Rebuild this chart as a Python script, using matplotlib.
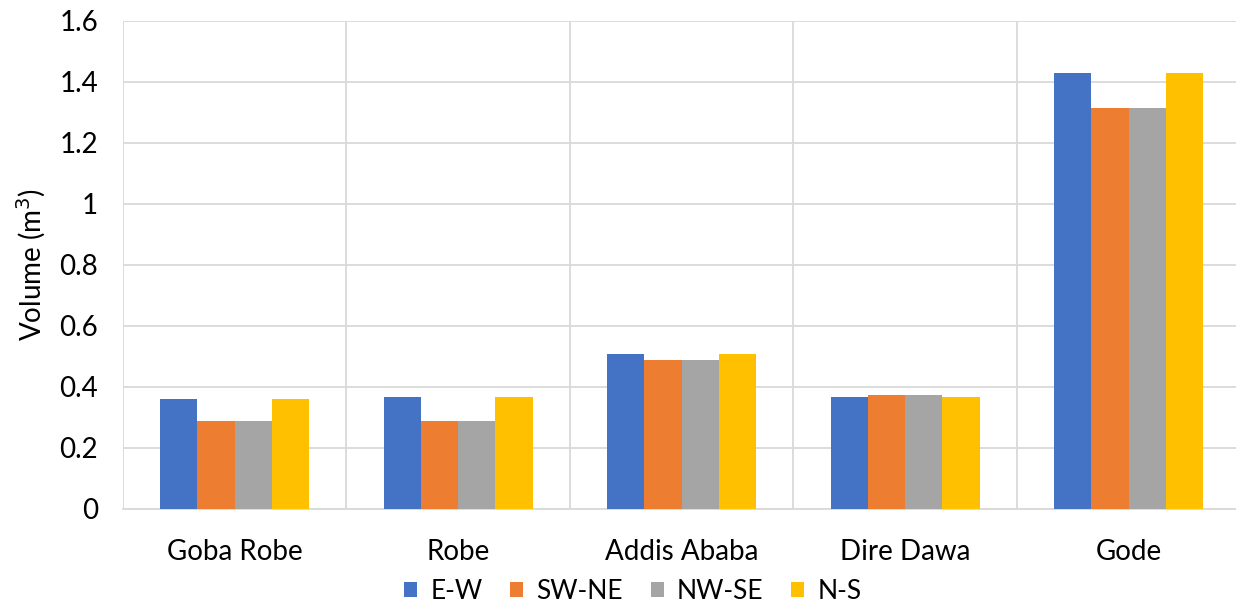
import matplotlib
matplotlib.use("Agg")
import matplotlib.pyplot as plt
from matplotlib.patches import Patch
import numpy as np

plt.rcParams['font.family'] = ['Lato', 'DejaVu Sans']

sites = ["Goba Robe", "Robe", "Addis Ababa", "Dire Dawa", "Gode"]
series_names = ["E-W", "SW-NE", "NW-SE", "N-S"]
colors = ["#4472C4", "#ED7D31", "#A5A5A5", "#FFC000"]

ew = [0.358, 0.367, 0.507, 0.367, 1.428]
sw_ne = [0.286, 0.288, 0.487, 0.374, 1.314]
nw_se = [0.286, 0.288, 0.487, 0.374, 1.314]
ns = [0.358, 0.365, 0.507, 0.367, 1.428]
values = [ew, sw_ne, nw_se, ns]

yticks = [0, 0.2, 0.4, 0.6, 0.8, 1, 1.2, 1.4, 1.6]
ytick_labels = ["0", "0.2", "0.4", "0.6", "0.8", "1", "1.2", "1.4", "1.6"]

FS = 20

fig = plt.figure(figsize=(12.36, 6.06), dpi=100)
ax = fig.add_axes([0.0995, 0.1606, 0.904, 0.8052])

x = np.arange(len(sites))
bar_w = 1 / 6
for i, (vals, col) in enumerate(zip(values, colors)):
    ax.bar(x + (i - 1.5) * bar_w, vals, width=bar_w, color=col, zorder=3,
           linewidth=0)

grid_col = "#D9D9D9"
ax.set_xlim(-0.5, len(sites) - 0.5)
ax.set_ylim(0, 1.6)
ax.set_yticks(yticks)
ax.set_yticklabels(ytick_labels, fontsize=FS)
ax.set_xticks(x)
ax.set_xticklabels(sites, fontsize=FS)
ax.set_xticks(np.arange(-0.5, len(sites)), minor=True)
ax.tick_params(axis="both", which="both", length=0, colors="#000000")
ax.tick_params(axis="x", pad=22)
ax.tick_params(axis="y", pad=18)

ax.grid(axis="y", color=grid_col, linewidth=1.3, zorder=0)
ax.grid(axis="x", which="minor", color=grid_col, linewidth=1.3, zorder=0)
ax.grid(axis="x", which="major", visible=False)
for side in ["top", "right", "left"]:
    ax.spines[side].set_visible(False)
ax.spines["bottom"].set_color(grid_col)
ax.spines["bottom"].set_linewidth(1.3)

ax.set_ylabel("Volume (m$^3$)", fontsize=FS, labelpad=8)

handles = [Patch(facecolor=c, edgecolor="none") for c in colors]
fig.legend(handles, series_names, loc="center", bbox_to_anchor=(0.512, 0.024),
           ncol=4, frameon=False, fontsize=19, handlelength=0.5,
           handleheight=0.5, handletextpad=0.5, columnspacing=1.05)

fig.savefig("out.png", dpi=100)
